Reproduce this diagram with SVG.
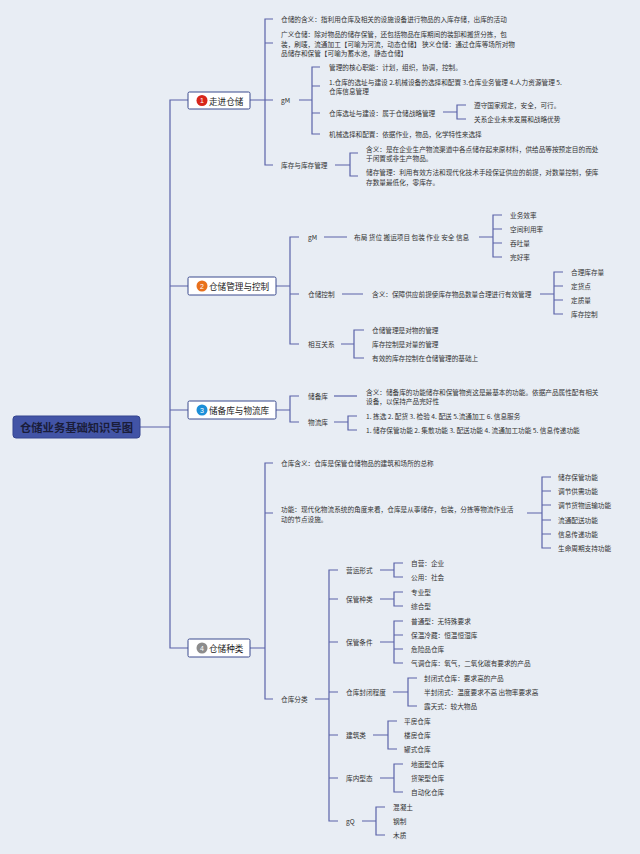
<svg xmlns="http://www.w3.org/2000/svg" width="640" height="854" viewBox="0 0 640 854">
<style>
.bg{fill:#e8edf4}
.ln{stroke:#5a63a8;stroke-width:1.2;fill:none}
.t{font-family:"Noto Sans CJK SC","Noto Sans",sans-serif;font-size:6.65px;fill:#333333;dominant-baseline:central}
.m{font-family:"Noto Sans CJK SC","Noto Sans",sans-serif;font-size:8.6px;fill:#222;dominant-baseline:central}
.box{fill:#ffffff;stroke:#3b4a8e;stroke-width:1}
.num{font-family:"Liberation Sans",sans-serif;font-size:7px;fill:#fff;text-anchor:middle;dominant-baseline:central}
.root{fill:#4254a6;stroke:#34448f;stroke-width:1}
.rt{font-family:"Noto Sans CJK SC",sans-serif;font-size:11.3px;font-weight:bold;fill:#1a1d3a;text-anchor:middle;dominant-baseline:central}
</style>
<rect class="bg" x="0" y="0" width="640" height="854"/>
<g id="connectors">
<path class="ln" d="M140,427H170M188,100H170V648H188M170,286H188M170,410H188"/>
<path class="ln" d="M250,100H273M273,19H265V165H273M265,43H273"/>
<path class="ln" d="M299,100H312M320,67H312V134H320M312,86H320M312,113H320"/>
<path class="ln" d="M443,112H457M466,105H457V119H466"/>
<path class="ln" d="M335,165H350M358,153H350V176H358"/>
<path class="ln" d="M276,286H290M299,237H290V344H299M290,294H299"/>
<path class="ln" d="M324,237H347M479,237H493M502,215H493V257H502M493,229H502M493,243H502"/>
<path class="ln" d="M342,294H363M540,294H554M563,272H554V314H563M554,286H563M554,300H563"/>
<path class="ln" d="M341,344H354M364,330H354V358H364"/>
<path class="ln" d="M276,410H290M299,396H290V422H299"/>
<path class="ln" d="M334,396H357"/>
<path class="ln" d="M334,422H348M357,416H348V430H357"/>
<path class="ln" d="M250,648H265M273,463H265V699H273M265,513H273"/>
<path class="ln" d="M527,513H542M551,477H542V548H551M542,491H551M542,505H551M542,520H551M542,534H551"/>
<path class="ln" d="M315,699H329M338,570H329V821H338M329,599H338M329,642H338M329,692H338M329,735H338M329,778H338"/>
<path class="ln" d="M380,570H394M403,563H394V577H403"/>
<path class="ln" d="M380,599H394M403,592H394V606H403"/>
<path class="ln" d="M380,642H394M403,621H394V663H403M394,635H403M394,649H403"/>
<path class="ln" d="M393,692H408M417,678H408V706H417"/>
<path class="ln" d="M373,735H388M397,721H388V749H397"/>
<path class="ln" d="M380,778H394M403,764H394V792H403"/>
<path class="ln" d="M362,821H376M385,807H376V835H385"/>
</g>
<g id="root">
<rect class="root" x="13" y="416" width="127" height="22" rx="3"/>
<text class="rt" x="76.5" y="427">仓储业务基础知识导图</text>
</g>
<g id="n1">
<rect class="box" x="188" y="92" width="62" height="17" rx="1.5"/>
<circle cx="202" cy="100.5" r="5.5" fill="#d8261b"/>
<text class="num" x="202" y="100.5">1</text>
<text class="m" x="209" y="100.5">走进仓储</text>
</g>
<g id="n1-children">
<text class="t" x="281" y="19">仓储的含义：指利用仓库及相关的设施设备进行物品的入库存储，出库的活动</text>
<text class="t" x="281" y="34">广义仓储：除对物品的储存保管，还包括物品在库期间的装卸和搬货分拣，包</text>
<text class="t" x="281" y="43.5">装，刷唛，流通加工【可喻为河流，动态仓储】 狭义仓储：通过仓库等场所对物</text>
<text class="t" x="281" y="53">品储存和保管【可喻为蓄水池，静态仓储】</text>
<text class="t" x="281" y="100">gM</text>
<text class="t" x="329" y="67">管理的核心职能：计划，组织，协调，控制。</text>
<text class="t" x="329" y="81.5">1.仓库的选址与建设 2.机械设备的选择和配置 3.仓库业务管理 4.人力资源管理 5.</text>
<text class="t" x="329" y="91">仓库信息管理</text>
<text class="t" x="329" y="113">仓库选址与建设：属于仓储战略管理</text>
<text class="t" x="474" y="105">遵守国家规定，安全，可行。</text>
<text class="t" x="474" y="119">关系企业未来发展和战略优势</text>
<text class="t" x="329" y="134">机械选择和配置：依据作业，物品，化学特性来选择</text>
<text class="t" x="281" y="165">库存与库存管理</text>
<text class="t" x="366" y="148.5">含义：是在企业生产物流渠道中各点储存起来原材料，供给品等按预定目的而处</text>
<text class="t" x="366" y="158">于闲置或非生产物品。</text>
<text class="t" x="366" y="172">储存管理：利用有效方法和现代化技术手段保证供应的前提，对数量控制，使库</text>
<text class="t" x="366" y="181.5">存数量最低化，零库存。</text>
</g>
<g id="n2">
<rect class="box" x="188" y="277" width="88" height="18" rx="1.5"/>
<circle cx="202" cy="286" r="5.5" fill="#e8701b"/>
<text class="num" x="202" y="286">2</text>
<text class="m" x="209" y="286">仓储管理与控制</text>
</g>
<g id="n2-children">
<text class="t" x="308" y="237">gM</text>
<text class="t" x="354" y="237">布局 货位 搬运项目 包装 作业 安全 信息</text>
<text class="t" x="510" y="215">业务效率</text>
<text class="t" x="510" y="229">空间利用率</text>
<text class="t" x="510" y="243">吞吐量</text>
<text class="t" x="510" y="257">完好率</text>
<text class="t" x="308" y="294">仓储控制</text>
<text class="t" x="372" y="294">含义：保障供应前提使库存物品数量合理进行有效管理</text>
<text class="t" x="571" y="272">合理库存量</text>
<text class="t" x="571" y="286">定货点</text>
<text class="t" x="571" y="300">定质量</text>
<text class="t" x="571" y="314">库存控制</text>
<text class="t" x="308" y="344">相互关系</text>
<text class="t" x="372" y="330">仓储管理是对物的管理</text>
<text class="t" x="372" y="344">库存控制是对量的管理</text>
<text class="t" x="372" y="358">有效的库存控制在仓储管理的基础上</text>
</g>
<g id="n3">
<rect class="box" x="188" y="401" width="88" height="18" rx="1.5"/>
<circle cx="202" cy="410" r="5.5" fill="#1c8fd8"/>
<text class="num" x="202" y="410">3</text>
<text class="m" x="209" y="410">储备库与物流库</text>
</g>
<g id="n3-children">
<text class="t" x="308" y="396">储备库</text>
<text class="t" x="366" y="392">含义：储备库的功能储存和保管物资这是最基本的功能。依据产品属性配有相关</text>
<text class="t" x="366" y="401">设备，以保持产品完好性</text>
<text class="t" x="308" y="422">物流库</text>
<text class="t" x="366" y="416">1. 拣选 2. 配货 3. 检验 4. 配送 5.流通加工 6. 信息服务</text>
<text class="t" x="366" y="430">1. 储存保管功能 2. 集散功能 3. 配送功能 4. 流通加工功能 5. 信息传递功能</text>
</g>
<g id="n4">
<rect class="box" x="188" y="639" width="62" height="18" rx="1.5"/>
<circle cx="202" cy="648" r="5.5" fill="#8c8c8c"/>
<text class="num" x="202" y="648">4</text>
<text class="m" x="209" y="648">仓储种类</text>
</g>
<g id="n4-children">
<text class="t" x="281" y="463">仓库含义：仓库是保管仓储物品的建筑和场所的总称</text>
<text class="t" x="281" y="509">功能：现代化物流系统的角度来看，仓库是从事储存，包装，分拣等物流作业活</text>
<text class="t" x="281" y="518.5">动的节点设施。</text>
<text class="t" x="558" y="477">储存保管功能</text>
<text class="t" x="558" y="491">调节供需功能</text>
<text class="t" x="558" y="505">调节货物运输功能</text>
<text class="t" x="558" y="520">流通配送功能</text>
<text class="t" x="558" y="534">信息传递功能</text>
<text class="t" x="558" y="548">生命周期支持功能</text>
<text class="t" x="281" y="699">仓库分类</text>
<text class="t" x="346" y="570">营运形式</text>
<text class="t" x="411" y="563">自营：企业</text>
<text class="t" x="411" y="577">公用：社会</text>
<text class="t" x="346" y="599">保管种类</text>
<text class="t" x="411" y="592">专业型</text>
<text class="t" x="411" y="606">综合型</text>
<text class="t" x="346" y="642">保管条件</text>
<text class="t" x="411" y="621">普通型：无特殊要求</text>
<text class="t" x="411" y="635">保温冷藏：恒温恒湿库</text>
<text class="t" x="411" y="649">危险品仓库</text>
<text class="t" x="411" y="663">气调仓库：氧气，二氧化碳有要求的产品</text>
<text class="t" x="346" y="692">仓库封闭程度</text>
<text class="t" x="424" y="678">封闭式仓库：要求高的产品</text>
<text class="t" x="424" y="692">半封闭式：温度要求不高 出物率要求高</text>
<text class="t" x="424" y="706">露天式：较大物品</text>
<text class="t" x="346" y="735">建筑类</text>
<text class="t" x="404" y="721">平房仓库</text>
<text class="t" x="404" y="735">楼房仓库</text>
<text class="t" x="404" y="749">罐式仓库</text>
<text class="t" x="346" y="778">库内型态</text>
<text class="t" x="411" y="764">地面型仓库</text>
<text class="t" x="411" y="778">货架型仓库</text>
<text class="t" x="411" y="792">自动化仓库</text>
<text class="t" x="346" y="821">gQ</text>
<text class="t" x="393" y="807">混凝土</text>
<text class="t" x="393" y="821">钢制</text>
<text class="t" x="393" y="835">木质</text>
</g>
</svg>
